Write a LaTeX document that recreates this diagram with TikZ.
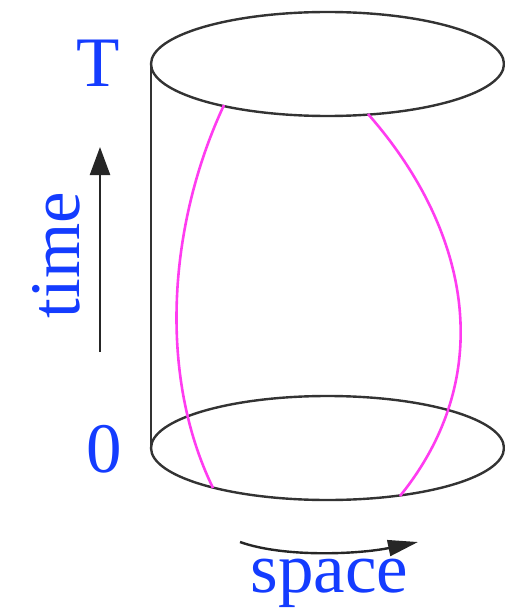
\documentclass[tikz,border=0pt]{standalone}
\usepackage{fontspec}
\setmainfont{Liberation Serif}
\usetikzlibrary{arrows.meta}
\definecolor{lblblue}{RGB}{20,60,255}
\definecolor{worldline}{RGB}{255,60,240}
\begin{document}
\begin{tikzpicture}[x=0.5pt,y=-0.5pt,
  edge/.style={line width=1.2pt, black!80},
  wl/.style={line width=1.3pt, worldline},
  lbl/.style={text=lblblue, font=\rmfamily\fontsize{35.5}{40}\selectfont, inner sep=0pt},
  axis/.style={line width=1.2pt, black!85}]
\useasboundingbox (0,0) rectangle (504,615);
% cylinder
\coordinate (topc) at (327.5,64);
\coordinate (botc) at (327.5,448);
\coordinate (tl) at (151,64);
\coordinate (bl) at (151,448);
\draw[edge] (topc) ellipse [x radius=88.25pt, y radius=26pt];
\draw[edge] (botc) ellipse [x radius=88.25pt, y radius=26pt];
\draw[edge] (tl) -- (bl);
% world lines
\coordinate (a0) at (224,105);
\coordinate (a1) at (213,488);
\coordinate (b0) at (368,114);
\coordinate (b1) at (400,496);
\draw[wl] (a0) .. controls (168,225) and (158,375) .. (a1);
\draw[wl] (b0) .. controls (470,230) and (498,375) .. (b1);
% labels
\node[lbl, anchor=base] (T) at (98.5,87) {T};
\node[lbl, anchor=base] (zero) at (104.5,472) {0};
\node[lbl, anchor=base, rotate=90] (time) at (79,255) {time};
\node[lbl, anchor=base] (space) at (329.5,592) {space};
% arrows
\coordinate (t0) at (100,352);
\coordinate (t1) at (100,147);
\draw[axis, -{Triangle[length=14pt,width=10pt]}] (t0) -- (t1);
\coordinate (s0) at (240,542);
\coordinate (s1) at (418,542);
\draw[axis, -{Triangle[length=15pt,width=8pt]}] (s0) .. controls (285,558) and (360,554) .. (s1);
\end{tikzpicture}
\end{document}
